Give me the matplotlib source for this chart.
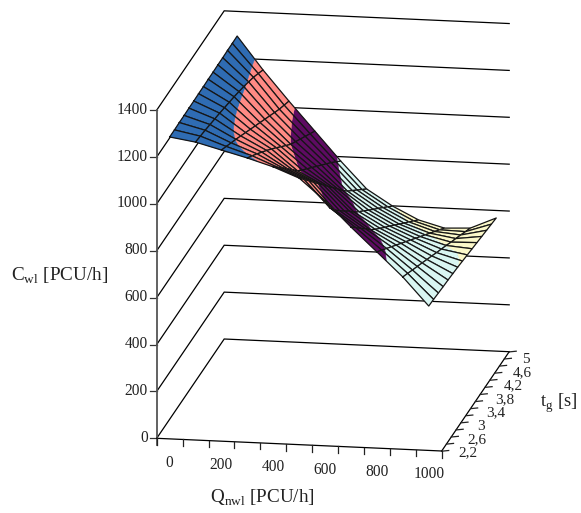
"""Capacity surface C_wl over Q_nwl and t_g, drawn in an oblique view."""
import numpy as np
import matplotlib
matplotlib.use("Agg")
import matplotlib.pyplot as plt

plt.rcParams['font.family'] = ['Liberation Serif', 'DejaVu Serif']
plt.rcParams['mathtext.fontset'] = 'custom'
plt.rcParams['mathtext.rm'] = 'Liberation Serif'

q_values = [0, 100, 200, 300, 400, 500, 600, 700, 800, 900, 1000]
t_values = [2.2, 2.4, 2.6, 2.8, 3.0, 3.2, 3.4, 3.6, 3.8, 4.0, 4.2, 4.4, 4.6, 4.8, 5.0]

# C_wl along t_g, one list per Q_nwl
c_q0 = [1288, 1288, 1289, 1289, 1290, 1290, 1291, 1291, 1292, 1292, 1293, 1293, 1294, 1294, 1295]
c_q100 = [1271, 1266, 1261, 1255, 1249, 1243, 1236, 1229, 1222, 1214, 1205, 1195, 1184, 1170, 1155]
c_q200 = [1242, 1227, 1212, 1197, 1181, 1165, 1149, 1133, 1117, 1101, 1085, 1069, 1053, 1040, 1027]
c_q300 = [1213, 1192, 1170, 1147, 1124, 1100, 1075, 1049, 1024, 999, 980, 961, 942, 923, 904]
c_q400 = [1180, 1147, 1114, 1080, 1046, 1012, 985, 960, 935, 910, 885, 860, 835, 808, 781]
c_q500 = [1137, 1101, 1065, 1028, 992, 956, 920, 884, 848, 812, 779, 751, 723, 695, 667]
c_q600 = [1045, 985, 945, 912, 880, 850, 815, 787, 760, 733, 706, 680, 653, 626, 599]
c_q700 = [938, 905, 872, 840, 806, 777, 751, 725, 700, 674, 648, 622, 597, 571, 545]
c_q800 = [837, 814, 791, 768, 745, 722, 699, 676, 653, 630, 607, 584, 561, 538, 515]
c_q900 = [735, 720, 704, 689, 674, 658, 643, 627, 612, 597, 581, 566, 551, 535, 520]
c_q1000 = [616, 614, 611, 608, 606, 603, 600, 596, 592, 588, 584, 580, 576, 572, 568]

z_ticks = [0, 200, 400, 600, 800, 1000, 1200, 1400]
q_labels = ['0', '200', '400', '600', '800', '1000']
t_labels = ['2,2', '2,6', '3', '3,4', '3,8', '4,2', '4,6', '5']

band_edges = [0, 600, 800, 1000, 1200, 1400]
band_colors = ['#fbf8c9', '#d9f6f2', '#5e0b62', '#ff8a84', '#2f6cb3']

# box corners in pixels and the height scale of the view
ORIGIN = np.array([156.7, 438.3])
U_STEP = np.array([285.0, 12.7])
V_STEP = np.array([67.5, -99.3])
Z_SCALE = 0.2344
TEXT = '#222222'


def project(u, v, z=0.0):
    """Box position (u, v in 0..1) and height to picture position."""
    x = ORIGIN[0] + U_STEP[0] * u + V_STEP[0] * v
    y = ORIGIN[1] + U_STEP[1] * u + V_STEP[1] * v - Z_SCALE * z
    return x, y


def clip_band(points, lo, hi):
    """Cuts a facet given as (u, v, z) corners down to one height band."""
    for limit, sign in ((lo, 1), (hi, -1)):
        kept = []
        for k, p in enumerate(points):
            n = points[(k + 1) % len(points)]
            p_in = sign * (p[2] - limit) >= 0
            n_in = sign * (n[2] - limit) >= 0
            if p_in:
                kept.append(p)
            if p_in != n_in:
                w = (limit - p[2]) / (n[2] - p[2])
                kept.append((p[0] + w * (n[0] - p[0]), p[1] + w * (n[1] - p[1]), limit))
        points = kept
        if not points:
            break
    return points


def draw_box(ax):
    for z in z_ticks:
        xs, ys = zip(project(0, 0, z), project(0, 1, z), project(1, 1, z))
        ax.plot(xs, ys, color='black', lw=0.9, zorder=1, solid_joinstyle='miter')
        x0, y0 = project(0, 0, z)
        ax.plot([x0 - 6.5, x0], [y0, y0], color='#333333', lw=0.9, zorder=1)
        ax.text(x0 - 9, y0 - 0.5, str(z), ha='right', va='center', fontsize=11.2, color=TEXT)

    x0, y0 = project(0, 0, 0)
    ax.plot([x0, x0], [y0 + 6.5, project(0, 0, z_ticks[-1])[1]], color='#555555', lw=1.3, zorder=1)

    # category axis, ticks between the categories
    xs, ys = zip(project(0, 0), project(1, 0))
    ax.plot(xs, ys, color='black', lw=0.9, zorder=1)
    for k in range(len(q_values) + 1):
        x, y = project(k / len(q_values), 0)
        ax.plot([x, x], [y, y + 6.5], color='#222222', lw=0.9, zorder=1)
    for k, label in enumerate(q_labels):
        x, y = project((2 * k + 0.5) / len(q_values), 0)
        ax.text(x, y + 23.7, label, ha='center', va='center', fontsize=11.2, color=TEXT)

    # depth axis, one tick per series
    xs, ys = zip(project(1, 0), project(1, 1))
    ax.plot(xs, ys, color='black', lw=0.9, zorder=1)
    for k in range(len(t_values)):
        x, y = project(1, k / (len(t_values) - 1))
        ax.plot([x, x + 7], [y + 0.2, y - 0.5], color='#222222', lw=0.9, zorder=1)
    for k, label in enumerate(t_labels):
        f = k / (len(t_labels) - 1)
        x, y = project(1, f)
        ax.text(x + 17 - 4 * f, y + 2 + 5.5 * f, label, ha='left', va='center', fontsize=11, color=TEXT)


def draw_surface(ax, c_grid):
    us = (np.arange(len(q_values)) + 0.5) / len(q_values)
    vs = np.arange(len(t_values)) / (len(t_values) - 1)
    order = 2
    # far facets first, the nearest corner is front right
    for i in range(len(t_values) - 2, -1, -1):
        for j in range(len(q_values) - 1):
            corners = [(us[j], vs[i], c_grid[i, j]), (us[j + 1], vs[i], c_grid[i, j + 1]),
                       (us[j + 1], vs[i + 1], c_grid[i + 1, j + 1]), (us[j], vs[i + 1], c_grid[i + 1, j])]
            for b, color in enumerate(band_colors):
                piece = clip_band(corners, band_edges[b], band_edges[b + 1])
                if len(piece) < 3:
                    continue
                xs, ys = zip(*[project(*p) for p in piece])
                ax.fill(xs, ys, facecolor=color, edgecolor=color, lw=0.3, zorder=order)
            xs, ys = zip(*[project(*p) for p in corners + corners[:1]])
            ax.plot(xs, ys, color='#151515', lw=0.9, zorder=order + 0.5, solid_joinstyle='round')
            order += 1


def main():
    c_grid = np.column_stack([c_q0, c_q100, c_q200, c_q300, c_q400, c_q500,
                              c_q600, c_q700, c_q800, c_q900, c_q1000])

    fig = plt.figure(figsize=(5.81, 5.13), dpi=100)
    ax = fig.add_axes([0, 0, 1, 1])
    ax.set_xlim(0, 581)
    ax.set_ylim(513, 0)
    ax.axis('off')

    draw_box(ax)
    draw_surface(ax, c_grid)

    ax.text(60, 276, r'C$_{\mathrm{wl}}$ [PCU/h]', ha='center', va='center', fontsize=13.8, color=TEXT)
    ax.text(262, 498, r'Q$_{\mathrm{nwl}}$ [PCU/h]', ha='center', va='center', fontsize=13.8, color=TEXT)
    ax.text(559, 403, r't$_{\mathrm{g}}$ [s]', ha='center', va='center', fontsize=13.4, color=TEXT)

    fig.savefig('out.png', dpi=100)
    plt.close(fig)


if __name__ == "__main__":
    main()
